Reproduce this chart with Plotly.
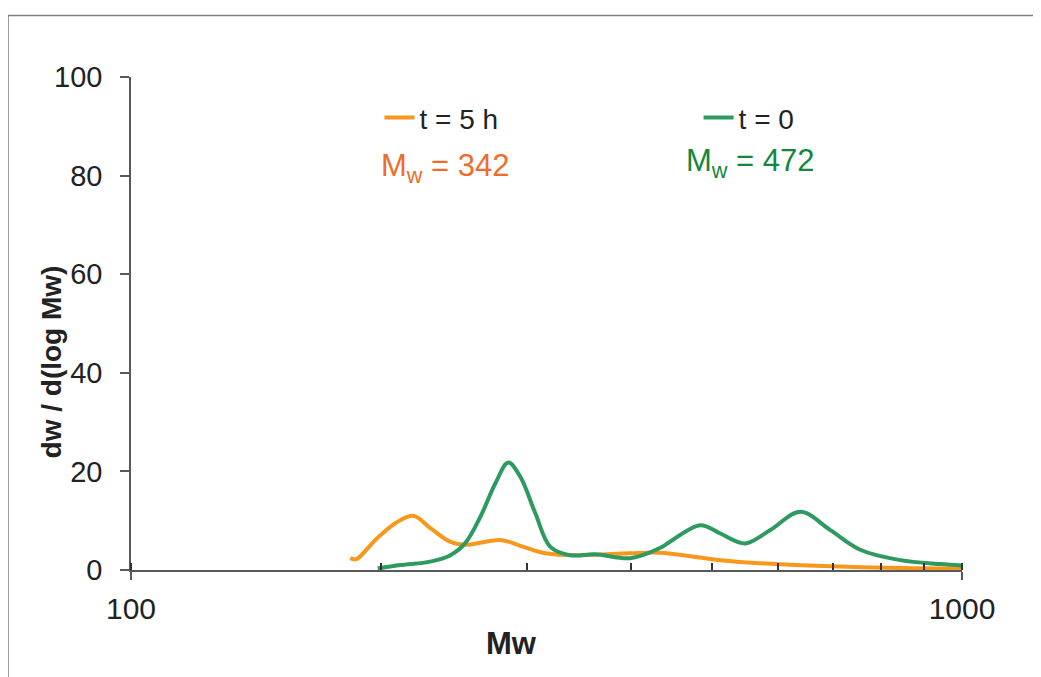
import plotly.graph_objects as go

# t = 5 h series
mw_5h = [183.6, 186.7, 196.8, 208.0, 218.6, 229.2, 242.3, 252.6, 278.3, 294.1,
         315.2, 347.3, 399.0, 433.5, 471.0, 511.9, 604.5, 713.8, 843.0, 1000.0]
val_5h = [2.4, 2.2, 6.1, 9.5, 11.0, 8.5, 5.7, 5.1, 6.1, 4.9,
          3.4, 3.0, 3.4, 3.5, 2.8, 2.0, 1.15, 0.7, 0.4, 0.3]

# t = 0 series
mw_0 = [198.1, 211.0, 229.2, 242.3, 252.6, 263.3, 274.5, 284.4, 294.1, 306.6,
        319.6, 337.8, 362.0, 399.0, 433.5, 445.7, 484.3, 511.9, 548.6, 587.9,
        638.9, 694.2, 754.4, 843.0, 941.7, 1000.0]
val_0 = [0.3, 1.0, 1.7, 3.0, 5.5, 10.8, 17.6, 21.8, 18.9, 11.5,
         4.7, 3.0, 3.2, 2.4, 4.5, 5.8, 9.1, 7.4, 5.4, 8.1,
         11.8, 8.1, 4.1, 2.0, 1.2, 0.9]

names = ["t = 5 h", "t = 0"]
line_colors = ["#F7981D", "#2E9A62"]
mw_labels = ["M<sub>w</sub> = 342", "M<sub>w</sub> = 472"]
mw_label_colors = ["#EC6E2A", "#15873D"]
y_ticks = [0, 20, 40, 60, 80, 100]
x_ticks = [100, 1000]
x_title = "<b>Mw</b>"
y_title = "<b>dw / d(log Mw)</b>"

FONT = "Liberation Sans, Arial, sans-serif"
AX = "#595959"

fig = go.Figure()
for xs, ys, nm, col, lg in [(mw_5h, val_5h, names[0], line_colors[0], "legend"),
                            (mw_0, val_0, names[1], line_colors[1], "legend2")]:
    fig.add_trace(go.Scatter(x=xs, y=ys, name=nm, mode="lines", legend=lg,
                             line=dict(color=col, width=4, shape="spline", smoothing=1.0)))

legend_common = dict(xanchor="left", yanchor="middle", y=0.917,
                     font=dict(size=28, color="#222222"), bgcolor="rgba(0,0,0,0)")

fig.update_layout(
    width=1033, height=669,
    margin=dict(l=123, r=79, t=69, b=107),
    paper_bgcolor="white", plot_bgcolor="white",
    font=dict(family=FONT, color="#222222", size=28),
    showlegend=True,
    legend=dict(x=0.299, **legend_common),
    legend2=dict(x=0.683, **legend_common),
    xaxis=dict(type="log", range=[2, 3], tickvals=x_ticks, ticktext=[str(v) for v in x_ticks],
               showline=True, linecolor=AX, linewidth=1.5, ticks="outside", ticklen=8,
               tickcolor=AX, tickwidth=1.5, showgrid=False, zeroline=False,
               tickfont=dict(size=30), ticklabelstandoff=3,
               minor=dict(ticks="inside", ticklen=7, tickcolor="#333333", tickwidth=1.5,
                          dtick="D1", showgrid=False)),
    yaxis=dict(range=[0, 100], tickvals=y_ticks, showline=True, linecolor=AX, linewidth=1.5,
               ticks="outside", ticklen=9, tickcolor=AX, tickwidth=1.5, showgrid=False,
               zeroline=False, tickfont=dict(size=29), ticklabelstandoff=12),
    shapes=[dict(type="rect", xref="paper", yref="paper", x0=-0.148, x1=1.3,
                 y0=-0.4, y1=1.1247, line=dict(color="#7F7F7F", width=1.5),
                 fillcolor="rgba(0,0,0,0)", layer="below")],
)

# axis titles (placed as in the reference, not centred on the axes)
fig.add_annotation(text=y_title, xref="paper", yref="paper", x=-0.0963, y=0.423,
                   textangle=-90, showarrow=False, font=dict(size=28, color="#222222"),
                   xanchor="center", yanchor="middle")
fig.add_annotation(text=x_title, xref="paper", yref="paper", x=0.458, y=-0.15,
                   showarrow=False, font=dict(size=31, color="#222222"),
                   xanchor="center", yanchor="middle")

for txt, col, px, py in [(mw_labels[0], mw_label_colors[0], 0.378, 0.815),
                         (mw_labels[1], mw_label_colors[1], 0.745, 0.826)]:
    fig.add_annotation(text=txt, xref="paper", yref="paper", x=px, y=py,
                       showarrow=False, font=dict(size=31, color=col),
                       xanchor="center", yanchor="middle")

fig.write_html("out.html")
